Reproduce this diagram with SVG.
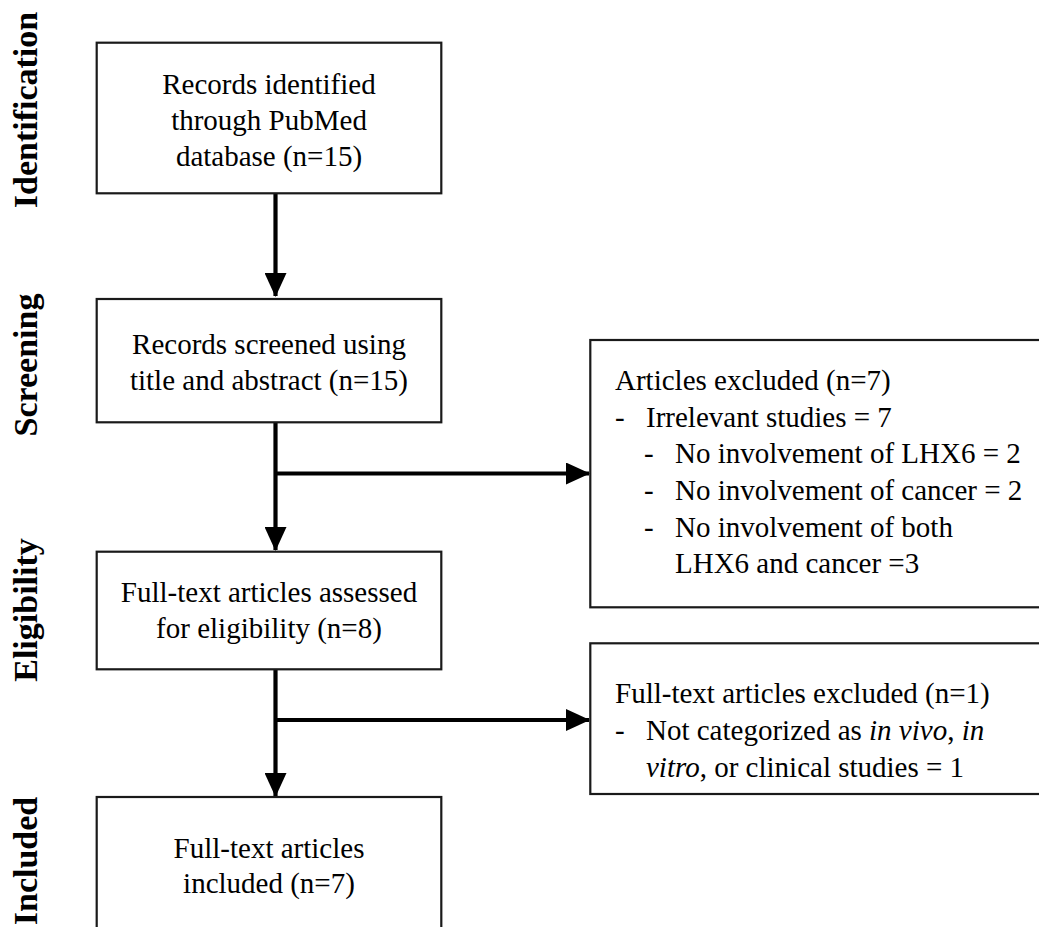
<svg xmlns="http://www.w3.org/2000/svg" width="1039" height="927" viewBox="0 0 1039 927">
<style>
.box{fill:#fff;stroke:#1a1a1a;stroke-width:2.2}
.t{font-family:'Liberation Serif','Tinos','Times New Roman','Nimbus Roman','DejaVu Serif','Noto Serif',serif;font-size:29px;fill:#000}
.c{text-anchor:middle}
.side{font-family:'Liberation Serif','Tinos','Times New Roman','Nimbus Roman','DejaVu Serif','Noto Serif',serif;font-size:34px;font-weight:bold;fill:#000;text-anchor:middle}
.conn{fill:none;stroke:#000;stroke-width:4.2}
</style>
<defs>
<marker id="ah" markerUnits="userSpaceOnUse" markerWidth="24" markerHeight="22" refX="23" refY="11" orient="auto" viewBox="0 0 24 22">
<path d="M0,0 L24,11 L0,22 Z" fill="#000"/>
</marker>
</defs>
<rect width="1039" height="927" fill="#fff"/>
<g id="stage-labels">
<text class="side" transform="translate(37,110) rotate(-90)">Identification</text>
<text class="side" transform="translate(37,365) rotate(-90)">Screening</text>
<text class="side" transform="translate(37,610) rotate(-90)">Eligibility</text>
<text class="side" transform="translate(37,861) rotate(-90)">Included</text>
</g>
<g id="connectors">
<path class="conn" d="M275.5,193 V296" marker-end="url(#ah)"/>
<path class="conn" d="M275.5,422 V550" marker-end="url(#ah)"/>
<path class="conn" d="M275.5,473.5 H589" marker-end="url(#ah)"/>
<path class="conn" d="M275.5,669 V796" marker-end="url(#ah)"/>
<path class="conn" d="M275.5,720 H589" marker-end="url(#ah)"/>
</g>
<g id="identified">
<rect class="box" x="96.7" y="42.7" width="344.6" height="150.6"/>
<text class="t c" x="269" y="94">Records identified</text>
<text class="t c" x="269" y="130">through PubMed</text>
<text class="t c" x="269" y="166">database (n=15)</text>
</g>
<g id="screened">
<rect class="box" x="96.7" y="299" width="344.6" height="123.3"/>
<text class="t c" x="269" y="354">Records screened using</text>
<text class="t c" x="269" y="390">title and abstract (n=15)</text>
</g>
<g id="assessed">
<rect class="box" x="96.7" y="551.7" width="344.6" height="117.6"/>
<text class="t c" x="269" y="602">Full-text articles assessed</text>
<text class="t c" x="269" y="638">for eligibility (n=8)</text>
</g>
<g id="included">
<rect class="box" x="96.7" y="797" width="344.6" height="150"/>
<text class="t c" x="269" y="858">Full-text articles</text>
<text class="t c" x="269" y="893">included (n=7)</text>
</g>
<g id="excluded-articles">
<rect class="box" x="590.3" y="340" width="460" height="267.3"/>
<text class="t" x="615" y="390">Articles excluded (n=7)</text>
<text class="t" x="615" y="426.7">-</text>
<text class="t" x="646" y="426.7">Irrelevant studies = 7</text>
<text class="t" x="644" y="463">-</text>
<text class="t" x="675" y="463">No involvement of LHX6 = 2</text>
<text class="t" x="644" y="500">-</text>
<text class="t" x="675" y="500">No involvement of cancer = 2</text>
<text class="t" x="644" y="536.7">-</text>
<text class="t" x="675" y="536.7">No involvement of both</text>
<text class="t" x="675" y="572.5">LHX6 and cancer =3</text>
</g>
<g id="excluded-fulltext">
<rect class="box" x="590.3" y="643.3" width="460" height="150.7"/>
<text class="t" x="615" y="703">Full-text articles excluded (n=1)</text>
<text class="t" x="615" y="740">-</text>
<text class="t" x="646" y="740">Not categorized as <tspan font-style="italic">in vivo</tspan>, <tspan font-style="italic">in</tspan></text>
<text class="t" x="646" y="776.7"><tspan font-style="italic">vitro</tspan>, or clinical studies = 1</text>
</g>
</svg>
